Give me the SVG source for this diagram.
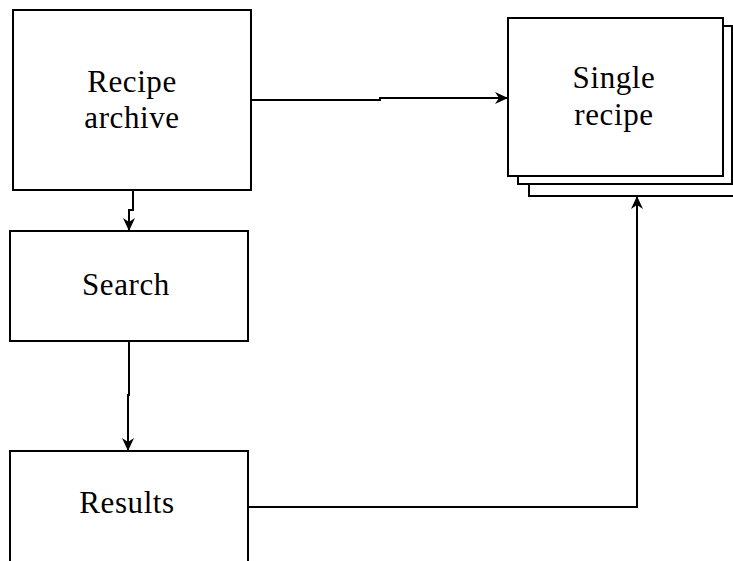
<svg xmlns="http://www.w3.org/2000/svg" width="733" height="561" viewBox="0 0 733 561">
<defs>
<style>
.box{fill:#fff;stroke:#000;stroke-width:2}
.lbl{font-family:"Palatino Linotype","Book Antiqua",Palatino,"Liberation Serif",serif;font-size:31px;fill:#000;text-anchor:middle;letter-spacing:0.6px}
.edge{fill:none;stroke:#000;stroke-width:2}
</style>
<marker id="arr" viewBox="0 0 13 12" refX="12" refY="6" markerWidth="13" markerHeight="12" markerUnits="userSpaceOnUse" orient="auto">
<path d="M0,0 L13,6 L0,12 L4,6 Z" fill="#000"/>
</marker>
</defs>
<rect width="733" height="561" fill="#fff"/>
<g id="archive">
<rect class="box" x="13" y="10" width="238" height="180"/>
<text class="lbl" x="132" y="92">Recipe</text>
<text class="lbl" x="132" y="128">archive</text>
</g>
<g id="search">
<rect class="box" x="10" y="231" width="238" height="110"/>
<text class="lbl" x="126" y="295">Search</text>
</g>
<g id="results">
<rect class="box" x="10" y="451" width="238" height="120"/>
<text class="lbl" x="127" y="513">Results</text>
</g>
<g id="single">
<rect class="box" x="529" y="38" width="214" height="158"/>
<rect class="box" x="518" y="26" width="214" height="158"/>
<rect class="box" x="508" y="18" width="215" height="158"/>
<text class="lbl" x="614" y="88">Single</text>
<text class="lbl" x="614" y="125">recipe</text>
</g>
<g id="connectors">
<path class="edge" d="M251,100 H380 V98 H507" marker-end="url(#arr)"/>
<path class="edge" d="M133,190 V210 H129 V230" marker-end="url(#arr)"/>
<path class="edge" d="M129,341 V395 H128 V450" marker-end="url(#arr)"/>
<path class="edge" d="M248,507 H637 V197" marker-end="url(#arr)"/>
</g>
</svg>
